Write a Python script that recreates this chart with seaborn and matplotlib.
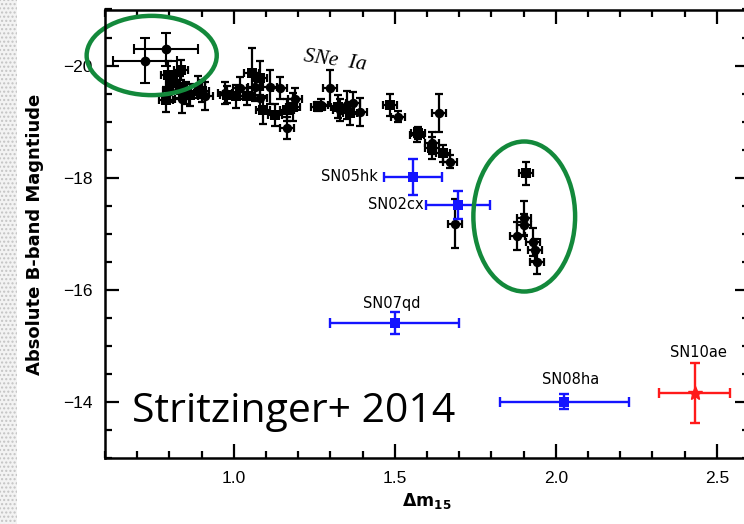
import matplotlib
matplotlib.use("Agg")
import matplotlib.pyplot as plt
import matplotlib.patches as mpatches
from matplotlib.ticker import MultipleLocator, FormatStrFormatter
import seaborn as sns
import pandas as pd

# --- SNe Ia sample ---
ia_dm15 = [0.790, 0.796, 0.801, 0.810, 0.832, 0.837, 0.840, 0.853, 0.863, 0.889,
           0.900, 0.912, 0.972, 0.980, 1.008, 1.019, 1.040, 1.055, 1.065, 1.081,
           1.081, 1.090, 1.112, 1.127, 1.143, 1.164, 1.166, 1.183, 1.190, 1.261,
           1.270, 1.299, 1.323, 1.330, 1.350, 1.360, 1.370, 1.392, 1.485, 1.511,
           1.568, 1.573, 1.615, 1.637, 1.615, 1.650, 1.672, 1.687, 1.908, 1.902,
           1.900, 1.881, 1.929, 1.936, 1.941]
ia_mag = [-19.39, -19.83, -19.55, -19.70, -19.62, -19.92, -19.40, -19.51, -19.48, -19.62,
          -19.55, -19.45, -19.51, -19.48, -19.45, -19.60, -19.45, -19.87, -19.62, -19.78,
          -19.42, -19.21, -19.62, -19.12, -19.60, -19.21, -18.89, -19.27, -19.40, -19.27,
          -19.30, -19.60, -19.27, -19.21, -19.30, -19.15, -19.33, -19.18, -19.30, -19.09,
          -18.76, -18.80, -18.62, -19.16, -18.53, -18.44, -18.29, -17.18, -18.08, -17.28,
          -17.16, -16.96, -16.86, -16.71, -16.50]
ia_err = [0.22, 0.25, 0.20, 0.15, 0.20, 0.18, 0.25, 0.20, 0.20, 0.20,
          0.20, 0.25, 0.20, 0.15, 0.20, 0.20, 0.15, 0.45, 0.25, 0.30,
          0.20, 0.25, 0.30, 0.20, 0.20, 0.20, 0.20, 0.25, 0.20, 0.08,
          0.10, 0.32, 0.20, 0.20, 0.25, 0.20, 0.20, 0.25, 0.20, 0.10,
          0.12, 0.10, 0.20, 0.34, 0.20, 0.15, 0.12, 0.44, 0.20, 0.30,
          0.20, 0.25, 0.25, 0.20, 0.22]
ia_marker = ["s", "s", "o", "s", "s", "s", "o", "o", "s", "o",
             "s", "o", "o", "s", "s", "o", "s", "s", "o", "s",
             "o", "s", "o", "s", "o", "s", "o", "s", "o", "s",
             "o", "o", "s", "o", "o", "s", "o", "o", "s", "o",
             "o", "s", "o", "o", "s", "s", "o", "o", "s", "o",
             "o", "o", "o", "o", "o"]

# two bright outliers (upper-left ellipse)
bright_dm15 = [0.725, 0.790]
bright_mag = [-20.09, -20.29]
bright_xerr = [0.10, 0.10]
bright_yerr = [0.40, 0.30]

# peculiar objects
pec_names = ["SN05hk", "SN02cx", "SN07qd", "SN08ha"]
pec_dm15 = [1.556, 1.697, 1.500, 2.027]
pec_mag = [-18.02, -17.52, -15.41, -14.01]
pec_xerr = [0.09, 0.10, 0.20, 0.20]
pec_yerr = [0.32, 0.25, 0.20, 0.14]

sn10ae_dm15, sn10ae_mag = 2.431, -14.16
sn10ae_xerr, sn10ae_yerr = 0.11, 0.53

ia = pd.DataFrame({"dm15": ia_dm15, "mag": ia_mag, "err": ia_err, "marker": ia_marker})

sns.set_theme(style="ticks")
plt.rcParams["font.family"] = ["Liberation Sans", "DejaVu Sans"]
plt.rcParams["text.color"] = "black"
plt.rcParams["axes.labelcolor"] = "black"

fig = plt.figure(figsize=(7.44, 5.24), dpi=100)
# speckled strip on the left edge of the slide
fig.patches.append(mpatches.Rectangle((0, 0), 17 / 744, 1, transform=fig.transFigure,
                                      facecolor="#f3f3f3", edgecolor="#c4c4c4",
                                      hatch="....", lw=0, zorder=-5))
ax = fig.add_axes([105 / 744, 65.7 / 524, 644 / 744, 448.8 / 524])

# SNe Ia
ax.errorbar(ia["dm15"], ia["mag"], yerr=ia["err"], xerr=0.022, fmt="none",
            ecolor="black", elinewidth=1.6, capsize=3.2, capthick=1.6, zorder=2)
for mk, grp in ia.groupby("marker"):
    sns.scatterplot(data=grp, x="dm15", y="mag", marker=mk, color="black",
                    s=46, edgecolor="black", linewidth=0, ax=ax, zorder=3, legend=False)

ax.errorbar(bright_dm15, bright_mag, xerr=bright_xerr, yerr=bright_yerr, fmt="o",
            color="black", ms=6, elinewidth=1.5, capsize=3.5, capthick=1.5, zorder=3)

# peculiar SNe (blue)
ax.errorbar(pec_dm15, pec_mag, xerr=pec_xerr, yerr=pec_yerr, fmt="none",
            ecolor="#1414ff", elinewidth=1.7, capsize=3.5, capthick=1.7, zorder=3)
sns.scatterplot(x=pec_dm15, y=pec_mag, marker="s", color="#1414ff", s=60,
                linewidth=0, ax=ax, zorder=4, legend=False)

# SN10ae (red)
ax.errorbar([sn10ae_dm15], [sn10ae_mag], xerr=[sn10ae_xerr], yerr=[sn10ae_yerr],
            fmt="*", color="#ff1a1a", ms=10, elinewidth=1.7, capsize=3.5, capthick=1.7, zorder=3)

# labels of peculiar objects
lab_kw = dict(fontsize=10.5, family=["DejaVu Sans"], color="black")
ax.text(1.448, -18.02, "SN05hk", ha="right", va="center", **lab_kw)
ax.text(1.590, -17.52, "SN02cx", ha="right", va="center", **lab_kw)
ax.text(1.490, -15.76, "SN07qd", ha="center", va="center", **lab_kw)
ax.text(2.045, -14.40, "SN08ha", ha="center", va="center", **lab_kw)
ax.text(2.443, -14.88, "SN10ae", ha="center", va="center", **lab_kw)

ax.text(1.314, -20.08, "SNe  Ia", ha="center", va="center", fontsize=15.5,
        family=["Liberation Serif", "DejaVu Serif"], style="italic", rotation=-8)
ax.text(0.683, -13.65, "Stritzinger+ 2014", ha="left", va="baseline", fontsize=29.5,
        family=["Open Sans", "DejaVu Sans"], color="black")

# green ellipses
for cx, cy, w, h in [(0.745, -20.18, 0.404, 1.413), (1.902, -17.31, 0.316, 2.674)]:
    ax.add_patch(mpatches.Ellipse((cx, cy), w, h, fill=False, edgecolor="#13893b",
                                  lw=3.2, clip_on=False, zorder=6))

ax.set_xlim(0.6, 2.6)
ax.set_ylim(-13, -21)
ax.xaxis.set_major_locator(MultipleLocator(0.5))
ax.xaxis.set_minor_locator(MultipleLocator(0.1))
ax.yaxis.set_major_locator(MultipleLocator(2))
ax.yaxis.set_minor_locator(MultipleLocator(0.5))
ax.tick_params(which="both", direction="in", top=True, right=True, bottom=True, left=True,
               width=1.6, color="black", labelcolor="black", labelsize=12.5)
ax.tick_params(which="major", length=10, pad=9)
ax.tick_params(which="minor", length=5)
ax.xaxis.set_major_formatter(FormatStrFormatter("%.1f"))
for sp in ax.spines.values():
    sp.set_linewidth(1.8)
    sp.set_color("black")
    sp.set_zorder(7)

ax.set_xlabel(r"$\mathbf{\Delta m_{15}}$", fontsize=12.5, labelpad=4)
ax.set_ylabel("Absolute B-band Magntiude", fontsize=13, fontweight="bold",
              family=["DejaVu Sans"], labelpad=14)

fig.savefig("out.png", dpi=100)
